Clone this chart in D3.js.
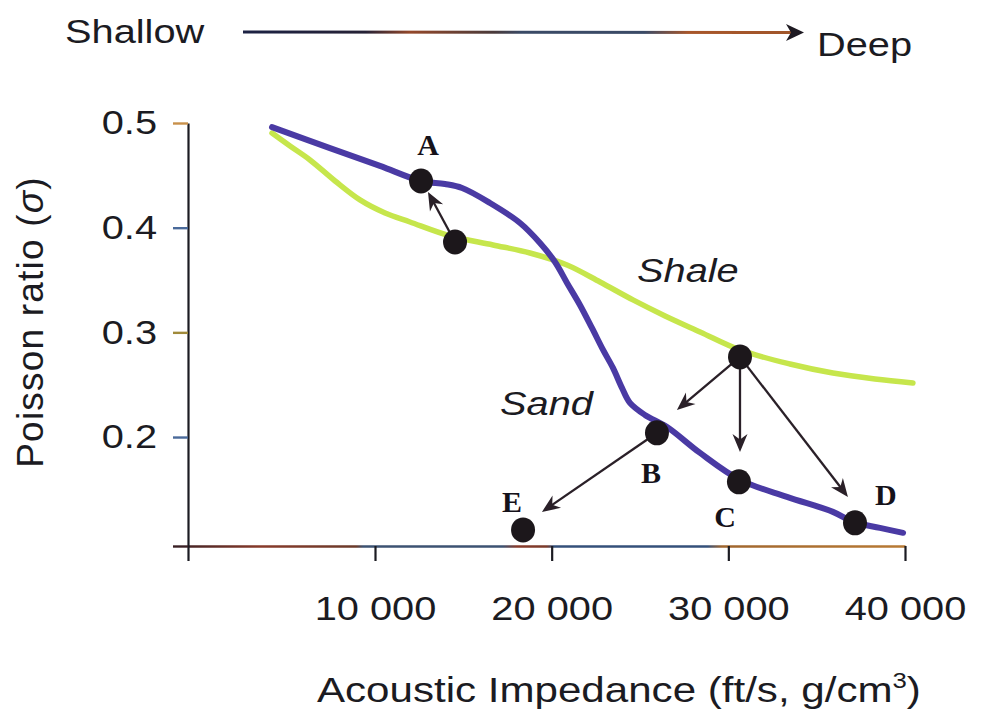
<!DOCTYPE html>
<html><head><meta charset="utf-8">
<script src="https://cdn.jsdelivr.net/npm/d3@7"></script>
<style>body{margin:0;background:#fff}svg{display:block}</style>
</head><body>
<svg id="c" width="982" height="724"></svg>
<script>
// ---------------- data ----------------
const sandX = [4170, 7450, 10280, 12600, 13960, 14930, 16510, 18210, 19340, 20190, 20870, 21600, 22280, 22910, 23470, 23980, 24430, 25280, 26530, 28400, 30660, 33320, 35920, 37060, 38580, 39890];
const sandY = [0.496, 0.476, 0.459, 0.4446, 0.4417, 0.4379, 0.4236, 0.4045, 0.3854, 0.3672, 0.3472, 0.3262, 0.3042, 0.2832, 0.266, 0.2469, 0.2326, 0.2211, 0.2096, 0.1848, 0.1591, 0.1428, 0.1285, 0.1189, 0.1132, 0.1085];
const shaleX = [4170, 5190, 6320, 7740, 9150, 10570, 11980, 14250, 16680, 18770, 20870, 22740, 24600, 26420, 28400, 30660, 33490, 35920, 38300, 40450];
const shaleY = [0.4904, 0.478, 0.4647, 0.4446, 0.4265, 0.414, 0.4054, 0.3921, 0.3835, 0.3758, 0.3644, 0.3481, 0.331, 0.3157, 0.3004, 0.2832, 0.2698, 0.2612, 0.2555, 0.2517];

const pointNames = ["A", "A0", "B", "C", "D", "E", "S"];
const pointX = [12605, 14530, 25960, 30600, 37170, 18380, 30660];
const pointY = [0.4446, 0.3863, 0.204, 0.1572, 0.118, 0.1113, 0.2765];

const labelNames = ["A", "B", "C", "D", "E"];
const labelX = [13000, 25620, 29810, 38920, 17750];
const labelY = [0.4694, 0.1562, 0.1142, 0.1352, 0.1285];

const arrowFrom = ["A0", "S", "S", "S", "B"];
const arrowToX = [13000, 27090, 30660, 36770, 19450];
const arrowToY = [0.4341, 0.2259, 0.1858, 0.1428, 0.1285];

const curveNames = ["Sand", "Shale"];
const curveLabelX = [17080, 24830];
const curveLabelY = [0.2211, 0.3481];

const xTicks = [10000, 20000, 30000, 40000];
const xTickLabels = ["10 000", "20 000", "30 000", "40 000"];
const yTicks = [0.2, 0.3, 0.4, 0.5];
const yTickLabels = ["0.2", "0.3", "0.4", "0.5"];
const xDomain = [-585, 40000];
const yDomain = [0.0959, 0.5];

// ---------------- drawing ----------------
const SX = 1.17;
const svg = d3.select("#c");
const defs = svg.append("defs");
const x = d3.scaleLinear().domain(xDomain).range([188, 905]);
const y = d3.scaleLinear().domain(yDomain).range([546, 123]);
const FONT = "'Liberation Sans', Arial, Helvetica, sans-serif";
const INK = "#1b1b22";

function grad(id, x1, x2, stops) {
  const g = defs.append("linearGradient").attr("id", id)
    .attr("gradientUnits", "userSpaceOnUse")
    .attr("x1", x1).attr("x2", x2).attr("y1", 0).attr("y2", 0);
  stops.forEach(s => g.append("stop").attr("offset", s[0]).attr("stop-color", s[1]));
}
grad("xaxisGrad", 173, 905, [[0, "#3a2024"], [0.12, "#883a2a"], [0.25, "#6a3a2a"], [0.26, "#3c5272"], [0.45, "#3c5272"], [0.47, "#883a2a"], [0.51, "#7a3a2a"], [0.52, "#34507a"], [0.73, "#34507a"], [0.75, "#a0662e"], [1, "#b87a34"]]);
grad("topGrad", 243, 800, [[0, "#1c2244"], [0.22, "#262236"], [0.3, "#94482a"], [0.45, "#4a3a3a"], [0.5, "#3a4a66"], [0.72, "#3a4a66"], [0.8, "#a8562a"], [1, "#a0562a"]]);

// ---- top "Shallow -> Deep" arrow ----
const topG = svg.append("g");
topG.append("text").attr("transform", `translate(65,43) scale(${SX},1)`)
  .attr("font-family", FONT).attr("font-size", 34).attr("fill", INK).text("Shallow");
topG.append("text").attr("transform", `translate(817,56) scale(${SX},1)`)
  .attr("font-family", FONT).attr("font-size", 34).attr("fill", INK).text("Deep");
topG.append("line").attr("x1", 243).attr("x2", 792).attr("y1", 32).attr("y2", 32.5)
  .attr("stroke", "url(#topGrad)").attr("stroke-width", 3);
topG.append("path").attr("d", "M804,32.5 L786,24 L791,32.5 L786,41 Z").attr("fill", "#1e1a22");

// ---- axes ----
const gx = svg.append("g").attr("transform", `translate(0,${y(yDomain[0])})`)
  .call(d3.axisBottom(x).tickValues([xDomain[0], ...xTicks]).tickSize(15).tickSizeOuter(0).tickPadding(35)
    .tickFormat((d, i) => i === 0 ? "" : xTickLabels[i - 1]));
gx.select(".domain").attr("stroke", "url(#xaxisGrad)").attr("stroke-width", 2.6);
gx.selectAll(".tick line").attr("stroke", INK).attr("stroke-width", 2.2);
gx.selectAll(".tick text").attr("font-family", FONT).attr("font-size", 34).attr("fill", INK)
  .attr("transform", `scale(${SX},1)`);

const gy = svg.append("g").attr("transform", `translate(${x(xDomain[0])},0)`)
  .call(d3.axisLeft(y).tickValues([yDomain[0], ...yTicks]).tickSize(15).tickSizeOuter(0).tickPadding(16)
    .tickFormat((d, i) => i === 0 ? "" : yTickLabels[i - 1]));
gy.select(".domain").attr("stroke", INK).attr("stroke-width", 2.2);
const tickCols = ["#3a2024", "#4a6a9a", "#a08a3a", "#4a6a9a", "#c8904a"];
gy.selectAll(".tick line").attr("stroke", (d, i) => tickCols[i]).attr("stroke-width", 2.4);
gy.selectAll(".tick text").attr("font-family", FONT).attr("font-size", 34).attr("fill", INK)
  .attr("x", -31 / SX).attr("transform", `scale(${SX},1)`);

// axis titles
const xt = svg.append("text").attr("transform", `translate(317,702) scale(${SX},1)`)
  .attr("font-family", FONT).attr("font-size", 36).attr("fill", INK);
xt.append("tspan").text("Acoustic Impedance (ft/s, g/cm");
xt.append("tspan").attr("font-size", 22).attr("dy", -14).text("3");
xt.append("tspan").attr("dy", 14).text(")");

const yt = svg.append("text").attr("transform", "translate(43,322) rotate(-90)")
  .attr("text-anchor", "middle").attr("font-family", FONT).attr("font-size", 37)
  .attr("letter-spacing", 1.2).attr("fill", INK);
yt.append("tspan").text("Poisson ratio (");
yt.append("tspan").attr("font-style", "italic").text("σ");
yt.append("tspan").text(")");

// ---- curves ----
const line = d3.line().x(d => x(d[0])).y(d => y(d[1])).curve(d3.curveCatmullRom.alpha(0.5));
svg.append("path").datum(shaleX.map((v, i) => [v, shaleY[i]])).attr("d", line)
  .attr("fill", "none").attr("stroke", "#c6e64c").attr("stroke-width", 5.5).attr("stroke-linecap", "round");
svg.append("path").datum(sandX.map((v, i) => [v, sandY[i]])).attr("d", line)
  .attr("fill", "none").attr("stroke", "#4a3aa4").attr("stroke-width", 6).attr("stroke-linecap", "round");

// curve labels
svg.selectAll("text.curve").data(curveNames).enter().append("text").attr("class", "curve")
  .attr("transform", (d, i) => `translate(${x(curveLabelX[i])},${y(curveLabelY[i])}) scale(${SX},1)`)
  .attr("font-family", FONT).attr("font-style", "italic").attr("font-size", 34).attr("fill", INK)
  .text(d => d);

// ---- arrows ----
const ptIndex = name => pointNames.indexOf(name);
const ag = svg.append("g");
arrowFrom.forEach((name, i) => {
  const k = ptIndex(name);
  const sx = x(pointX[k]), sy = y(pointY[k]);
  const tx = x(arrowToX[i]), ty = y(arrowToY[i]);
  const dx = tx - sx, dy = ty - sy, L = Math.hypot(dx, dy);
  const ux = dx / L, uy = dy / L;
  const ang = Math.atan2(dy, dx) * 180 / Math.PI;
  ag.append("line").attr("x1", sx + ux * 10).attr("y1", sy + uy * 10)
    .attr("x2", tx - ux * 8).attr("y2", ty - uy * 8)
    .attr("stroke", "#2a2028").attr("stroke-width", 2.3);
  ag.append("path").attr("transform", `translate(${tx},${ty}) rotate(${ang})`)
    .attr("d", "M0,0 L-18,-7.5 L-12.5,0 L-18,7.5 Z").attr("fill", "#2a2028");
});

// ---- points ----
svg.selectAll("ellipse.pt").data(pointNames).enter().append("ellipse").attr("class", "pt")
  .attr("cx", (d, i) => x(pointX[i])).attr("cy", (d, i) => y(pointY[i]))
  .attr("rx", 12).attr("ry", 12.5).attr("fill", "#1c171b");

// point labels
svg.selectAll("text.pl").data(labelNames).enter().append("text").attr("class", "pl")
  .attr("x", (d, i) => x(labelX[i])).attr("y", (d, i) => y(labelY[i]))
  .attr("text-anchor", "middle").attr("font-family", "'Liberation Serif', 'Times New Roman', serif")
  .attr("font-weight", "bold").attr("font-size", 30).attr("fill", "#15121a").text(d => d);
</script>
</body></html>
